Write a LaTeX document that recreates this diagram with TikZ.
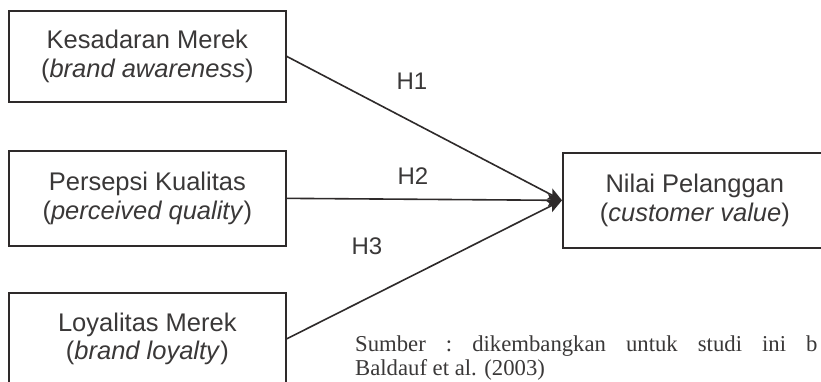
\documentclass[tikz,border=0pt]{standalone}
\usepackage{fontspec}
\setmainfont{Liberation Sans}
\newfontfamily\capfont{Liberation Serif}
\usetikzlibrary{arrows.meta}
\definecolor{ink}{HTML}{2E2A2A}
\definecolor{txt}{HTML}{3A3838}
\tikzset{
  varbox/.style={draw=ink, line width=1.7pt, align=center, inner sep=0pt,
    text=txt, font=\fontsize{25.5}{28.5}\selectfont, anchor=north west},
  hyp/.style={draw=ink, line width=1.6pt, -{Stealth[length=14pt,width=12pt,inset=3pt]}},
  hlabel/.style={text=txt, font=\fontsize{24}{28}\selectfont, inner sep=0pt},
  captxt/.style={text=txt, font=\capfont\fontsize{22.7}{26}\selectfont, inner sep=0pt, anchor=base west}
}
\begin{document}
\begin{tikzpicture}[x=1pt,y=-1pt]
\useasboundingbox (0,0) rectangle (821,382);
\clip (0,0) rectangle (821,382);
\fill[white] (0,0) rectangle (821,382);
\node[varbox, minimum width=277pt, minimum height=91pt] (ka) at (8,10)
  {Kesadaran Merek\\(\textit{brand awareness})};
\node[varbox, minimum width=277pt, minimum height=95pt] (pk) at (8,150)
  {Persepsi Kualitas\\(\textit{perceived quality})};
\node[varbox, minimum width=277pt, minimum height=92pt] (lm) at (8,292)
  {Loyalitas Merek\\(\textit{brand loyalty})};
\node[varbox, minimum width=264pt, minimum height=95pt] (nv) at (562,152)
  {Nilai Pelanggan\\(\textit{customer value})};
\draw[hyp] (ka.east) -- (nv.west);
\draw[hyp] (pk.east) -- (nv.west);
\draw[hyp] (lm.east) -- (nv.west);
\node[hlabel] (h1) at (412,81) {H1};
\node[hlabel] (h2) at (413,176) {H2};
\node[hlabel] (h3) at (367,246) {H3};
\node[captxt] (src1) at (355,351)
  {\hbox to 451pt{Sumber\hfill:\hfill dikembangkan\hfill untuk\hfill studi\hfill ini\hfill}b};
\node[captxt] (src2) at (355,375) {Baldauf et al. (2003)};
\end{tikzpicture}
\end{document}
